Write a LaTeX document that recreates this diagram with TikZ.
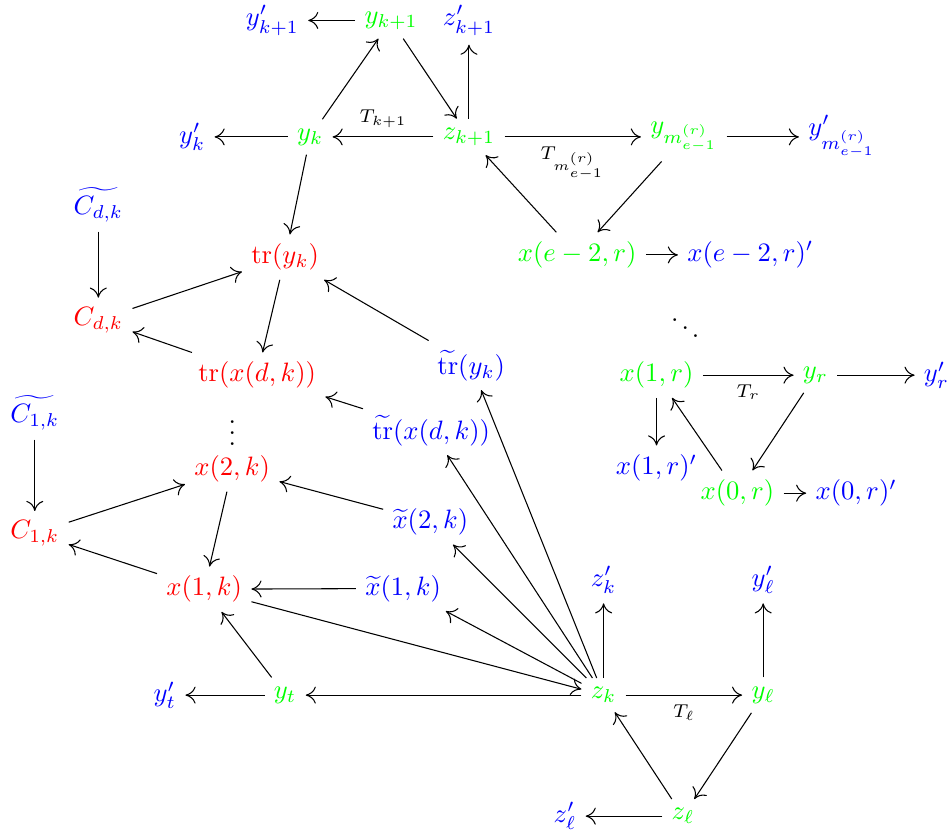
\documentclass[tikz,border=0pt]{standalone}
\usepackage{amsmath,amssymb}
\usepackage{tikz}
\usetikzlibrary{calc,arrows.meta}
\usepackage{xcolor}
\definecolor{mygreen}{RGB}{0,255,0}
\definecolor{myblue}{RGB}{0,0,255}
\definecolor{myred}{RGB}{255,0,0}

\begin{document}
\begin{tikzpicture}[gnode/.style={text=mygreen}, bnode/.style={text=myblue}, rnode/.style={text=myred}, lab/.style={font=\scriptsize}, >={To[length=3.8pt,width=6.4pt]}]
  \useasboundingbox (0,0) rectangle (12.56,-11.02);
  % upper triangle
  \node[bnode] (yk1p) at (3.60,-0.27) {$y'_{k+1}$};
  \node[gnode] (yk1) at (5.17,-0.27) {$y_{k+1}$};
  \node[bnode] (zk1p) at (6.20,-0.27) {$z'_{k+1}$};
  \node[bnode] (ykp) at (2.54,-1.81) {$y'_k$};
  \node[gnode] (yk) at (4.10,-1.81) {$y_k$};
  \node[gnode] (zk1) at (6.20,-1.81) {$z_{k+1}$};
  \node[gnode] (ym) at (9.04,-1.81) {$y_{m^{(r)}_{e-1}}$};
  \node[bnode] (ymp) at (11.13,-1.81) {$y'_{m^{(r)}_{e-1}}$};
  \node[gnode] (xe2) at (7.63,-3.37) {$x(e-2,r)$};
  \node[bnode] (xe2p) at (9.92,-3.37) {$x(e-2,r)'$};
  \node (ddts) at (9.06,-4.23) {$\ddots$};
  % traces
  \node[bnode] (Ctdk) at (1.30,-2.71) {$\widetilde{C_{d,k}}$};
  \node[rnode] (Cdk) at (1.30,-4.23) {$C_{d,k}$};
  \node[rnode] (tryk) at (3.77,-3.40) {$\operatorname{tr}(y_k)$};
  \node[rnode] (trxdk) at (3.40,-4.96) {$\operatorname{tr}(x(d,k))$};
  \node[bnode] (ttryk) at (6.23,-4.83) {$\widetilde{\operatorname{tr}}(y_k)$};
  \node[bnode] (ttrxdk) at (5.70,-5.69) {$\widetilde{\operatorname{tr}}(x(d,k))$};
  \node (vdts) at (3.07,-5.62) {$\vdots$};
  \node[bnode] (Ct1k) at (0.46,-5.46) {$\widetilde{C_{1,k}}$};
  \node[rnode] (C1k) at (0.46,-7.05) {$C_{1,k}$};
  \node[rnode] (x2k) at (3.07,-6.20) {$x(2,k)$};
  \node[rnode] (x1k) at (2.70,-7.79) {$x(1,k)$};
  \node[bnode] (tx2k) at (5.69,-6.90) {$\widetilde{x}(2,k)$};
  \node[bnode] (tx1k) at (5.33,-7.78) {$\widetilde{x}(1,k)$};
  % right triangle
  \node[gnode] (x1r) at (8.68,-4.96) {$x(1,r)$};
  \node[gnode] (yr) at (10.78,-4.96) {$y_r$};
  \node[bnode] (yrp) at (12.38,-4.96) {$y'_r$};
  \node[bnode] (x1rp) at (8.68,-6.19) {$x(1,r)'$};
  \node[gnode] (x0r) at (9.75,-6.52) {$x(0,r)$};
  \node[bnode] (x0rp) at (11.32,-6.52) {$x(0,r)'$};
  % lower triangle
  \node[bnode] (zkp) at (7.98,-7.67) {$z'_k$};
  \node[bnode] (ylp) at (10.09,-7.67) {$y'_\ell$};
  \node[bnode] (ytp) at (2.18,-9.19) {$y'_t$};
  \node[gnode] (yt) at (3.77,-9.19) {$y_t$};
  \node[gnode] (zk) at (7.98,-9.19) {$z_k$};
  \node[gnode] (yl) at (10.09,-9.19) {$y_\ell$};
  \node[bnode] (zlp) at (7.47,-10.79) {$z'_\ell$};
  \node[gnode] (zl) at (9.03,-10.79) {$z_\ell$};

  \draw[->] (yk1) -- (yk1p);
  \draw[->] (yk) -- (yk1);
  \draw[->] (yk1) -- (zk1);
  \draw[->] (zk1) -- (zk1p);
  \draw[->] (zk1) -- (yk) node[midway,above,lab]{$T_{k+1}$};
  \draw[->] (yk) -- (ykp);
  \draw[->] (yk) -- (tryk);
  \draw[->] (zk1) -- (ym) node[midway,below,lab]{$T_{m^{(r)}_{e-1}}$};
  \draw[->] (ym) -- (ymp);
  \draw[->] (ym) -- (xe2);
  \draw[->] (xe2) -- (zk1);
  \draw[->] (xe2) -- (xe2p);

  \draw[->] (Ctdk) -- (Cdk);
  \draw[->] (Cdk) -- (tryk);
  \draw[->] (tryk) -- (trxdk);
  \draw[->] (trxdk) -- (Cdk);
  \draw[->] (ttryk) -- (tryk);
  \draw[->] (ttrxdk) -- (trxdk);
  \draw[->] (Ct1k) -- (C1k);
  \draw[->] (C1k) -- (x2k);
  \draw[->] (x2k) -- (x1k);
  \draw[->] (x1k) -- (C1k);
  \draw[->] (tx2k) -- (x2k);
  \draw[->] (tx1k) -- (x1k);

  \draw[->] (x1r) -- (yr) node[midway,below,lab]{$T_r$};
  \draw[->] (yr) -- (yrp);
  \draw[->] (yr) -- (x0r);
  \draw[->] (x0r) -- (x1r);
  \draw[->] (x1r) -- (x1rp);
  \draw[->] (x0r) -- (x0rp);

  \draw[->] (x1k) -- (zk);
  \draw[->] (yt) -- (x1k);
  \draw[->] (yt) -- (ytp);
  \draw[->] (zk) -- (yt);
  \draw[->] (zk) -- (tx1k);
  \draw[->] (zk) -- (tx2k);
  \draw[->] (zk) -- (ttrxdk);
  \draw[->] (zk) -- (ttryk);
  \draw[->] (zk) -- (zkp);
  \draw[->] (zk) -- (yl) node[midway,below,lab]{$T_\ell$};
  \draw[->] (yl) -- (ylp);
  \draw[->] (yl) -- (zl);
  \draw[->] (zl) -- (zk);
  \draw[->] (zl) -- (zlp);
\end{tikzpicture}
\end{document}
